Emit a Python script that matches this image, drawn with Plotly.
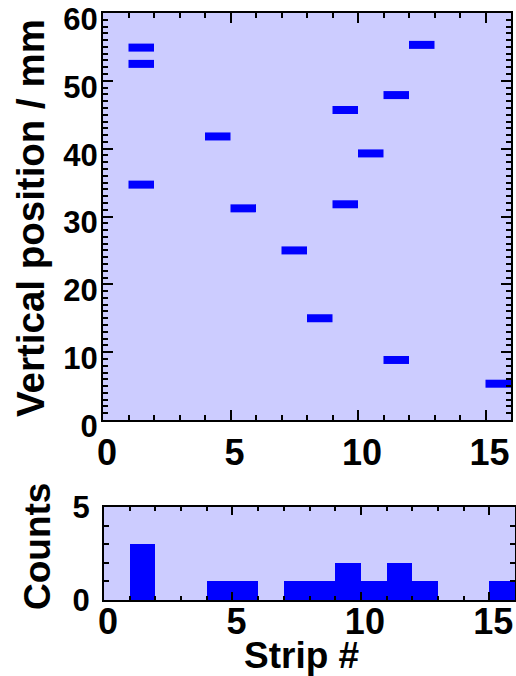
import plotly.graph_objects as go

# ---- data ----
seg_strips = [1, 1, 1, 4, 5, 7, 8, 9, 9, 10, 11, 11, 12, 15]
seg_positions = [54.9, 52.5, 34.7, 41.8, 31.2, 25.0, 15.0, 45.7, 31.8, 39.3, 47.9, 8.85, 55.3, 5.35]

hist_strips = [1, 4, 5, 7, 8, 9, 10, 11, 12, 15]
hist_counts = [3, 1, 1, 1, 1, 2, 1, 2, 1, 1]

x_ticks = [0, 5, 10, 15]
y_ticks_top = [0, 10, 20, 30, 40, 50, 60]
y_ticks_bottom = [0, 5]

W, H = 516, 676
BLUE = "#0000FF"
BG = "#CCCCFF"
FONT = "Liberation Sans, Arial, sans-serif"

def px_x(p):
    return p / W

def px_y(p):
    return 1 - p / H

# segments: each spans one strip width
sx, sy = [], []
for s, v in zip(seg_strips, seg_positions):
    sx += [s, s + 1, None]
    sy += [v, v, None]

fig = go.Figure()
fig.add_trace(go.Scatter(x=sx, y=sy, mode="lines",
                         line=dict(color=BLUE, width=8),
                         xaxis="x", yaxis="y", showlegend=False,
                         hoverinfo="skip"))
fig.add_trace(go.Bar(x=[s + 0.5 for s in hist_strips], y=hist_counts, width=1,
                     marker=dict(color=BLUE, line=dict(width=0)),
                     xaxis="x2", yaxis="y2", showlegend=False))

axis_common = dict(
    showline=True, linecolor="black", linewidth=2, mirror="allticks",
    ticks="inside", tickcolor="black", tickwidth=2,
    showgrid=False, zeroline=False, automargin=False,
    ticklabeloverflow="allow",
)

fig.update_layout(
    width=W, height=H,
    margin=dict(l=0, r=0, t=0, b=0, autoexpand=False),
    paper_bgcolor="white",
    plot_bgcolor=BG,
    bargap=0,
    xaxis=dict(domain=[px_x(103), px_x(511)], range=[0, 16], anchor="y",
               tickvals=x_ticks, ticklen=10,
               minor=dict(dtick=1, ticks="inside", ticklen=5, tickwidth=2, tickcolor="black"),
               tickfont=dict(family=FONT, size=36, color="black", weight="bold"),
               ticklabelstandoff=0, ticklabelshift=4,
               **axis_common),
    yaxis=dict(domain=[px_y(420), px_y(13)], range=[0, 60], anchor="x",
               tickvals=y_ticks_top, ticklen=10,
               minor=dict(dtick=1, ticks="inside", ticklen=5, tickwidth=2, tickcolor="black"),
               tickfont=dict(family=FONT, size=31, color="black", weight="bold"),
               ticklabelstandoff=-3, ticklabelshift=6,
               **axis_common),
    xaxis2=dict(domain=[px_x(104), px_x(515)], range=[0, 16], anchor="y2",
                tickvals=x_ticks, ticklen=8,
                minor=dict(dtick=1, ticks="inside", ticklen=4, tickwidth=2, tickcolor="black"),
                tickfont=dict(family=FONT, size=36, color="black", weight="bold"),
                ticklabelstandoff=-11, ticklabelshift=4,
                **axis_common),
    yaxis2=dict(domain=[px_y(600), px_y(507)], range=[0, 5], anchor="x2",
                tickvals=y_ticks_bottom, ticklen=6,
                minor=dict(dtick=1, ticks="inside", ticklen=5, tickwidth=2, tickcolor="black"),
                tickfont=dict(family=FONT, size=31, color="black", weight="bold"),
                ticklabelstandoff=6,
                **axis_common),
)

fig.add_annotation(text="Vertical position / mm", xref="paper", yref="paper",
                   x=px_x(30), y=px_y(218), xanchor="center", yanchor="middle",
                   textangle=-90, showarrow=False,
                   font=dict(family=FONT, size=38.5, color="black", weight="bold"))
fig.add_annotation(text="Counts", xref="paper", yref="paper",
                   x=px_x(37), y=px_y(547), xanchor="center", yanchor="middle",
                   textangle=-90, showarrow=False,
                   font=dict(family=FONT, size=37, color="black", weight="bold"))
fig.add_annotation(text="Strip #", xref="paper", yref="paper",
                   x=px_x(301), y=px_y(655), xanchor="center", yanchor="middle",
                   showarrow=False,
                   font=dict(family=FONT, size=37, color="black", weight="bold"))

fig.write_html("out.html")
